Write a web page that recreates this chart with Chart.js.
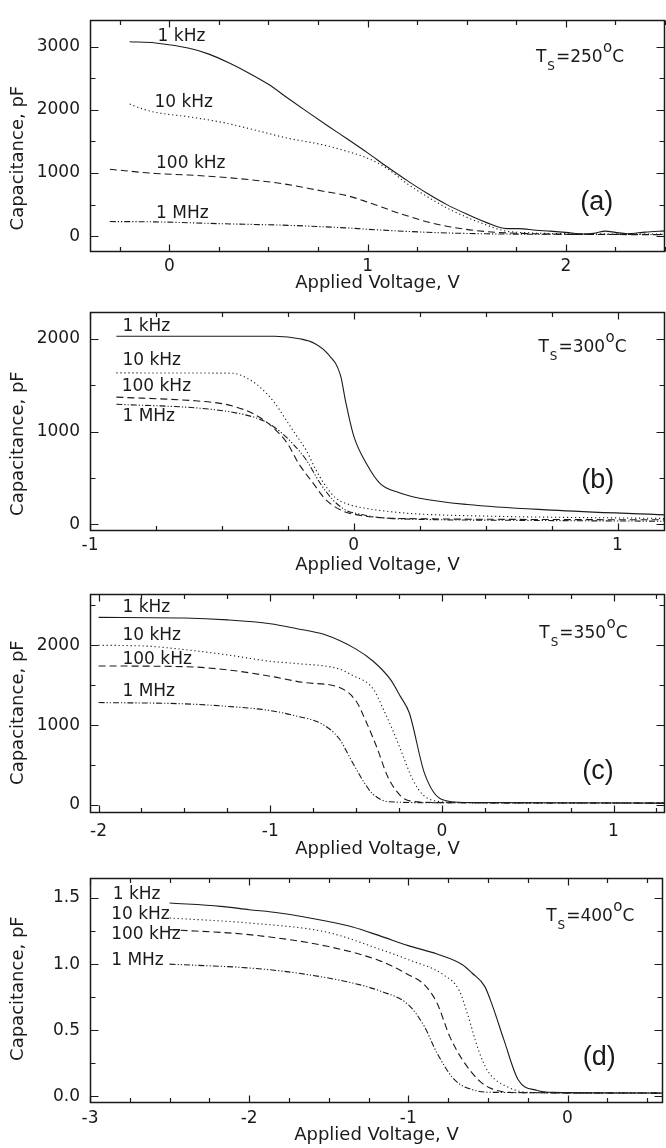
<!DOCTYPE html>
<html>
<head>
<meta charset="utf-8">
<title>Capacitance vs applied voltage</title>
<script src="https://cdn.jsdelivr.net/npm/chart.js@4.4.1/dist/chart.umd.min.js"></script>
<style>
  body { margin: 0; background: #fff; }
  #wrap { position: relative; width: 666px; height: 1148px; }
  canvas { position: absolute; left: 0; }
</style>
</head>
<body>
<div id="wrap">
  <canvas id="cvA" width="666" height="292" style="top:0px"></canvas>
  <canvas id="cvB" width="666" height="282" style="top:292px"></canvas>
  <canvas id="cvC" width="666" height="284" style="top:574px"></canvas>
  <canvas id="cvD" width="666" height="286" style="top:858px"></canvas>
</div>
<script>
// measuring frequencies, same order in every panel
var freqLabels = ['1 kHz', '10 kHz', '100 kHz', '1 MHz'];
var substrateTemps = [250, 300, 350, 400];

// (a) Ts = 250 C  -- [voltage, capacitance pF]
var a1kHz = [[-0.2,3078],[-0.07,3060],[0.1,2975],[0.2,2883],[0.3,2745],[0.4,2585],[0.5,2405],[0.6,2180],[0.7,1960],[0.8,1745],[0.9,1535],[1.0,1320],[1.1,1095],[1.2,880],[1.3,680],[1.4,500],[1.5,350],[1.6,215],[1.7,120],[1.76,120],[1.85,95],[1.92,80],[2.0,60],[2.09,36],[2.14,45],[2.2,80],[2.25,60],[2.31,40],[2.4,65],[2.5,85]];
var a10kHz = [[-0.2,2092],[-0.12,2000],[-0.05,1950],[0.1,1890],[0.27,1800],[0.44,1675],[0.6,1550],[0.77,1450],[0.9,1340],[1.0,1235],[1.1,1070],[1.2,830],[1.32,590],[1.42,415],[1.57,212],[1.69,86],[1.8,55],[2.0,40],[2.2,35],[2.5,35]];
var a100kHz = [[-0.3,1060],[-0.07,993],[0.1,968],[0.27,933],[0.44,883],[0.6,817],[0.77,716],[0.9,640],[1.0,540],[1.16,363],[1.32,212],[1.49,111],[1.66,60],[1.85,38],[2.1,28],[2.5,25]];
var a1MHz = [[-0.3,232],[-0.07,227],[0.27,197],[0.6,172],[0.9,130],[1.0,110],[1.3,62],[1.6,38],[2.0,30],[2.5,28]];

// (b) Ts = 300 C
var b1kHz = [[-0.9,2025],[-0.3,2025],[-0.2,1995],[-0.15,1950],[-0.1,1840],[-0.05,1600],[-0.03,1310],[0.0,950],[0.05,645],[0.1,440],[0.17,345],[0.25,283],[0.43,215],[0.75,155],[1.18,103]];
var b10kHz = [[-0.9,1630],[-0.46,1627],[-0.4,1566],[-0.35,1463],[-0.3,1309],[-0.26,1139],[-0.22,968],[-0.18,796],[-0.144,591],[-0.112,437],[-0.068,283],[-0.018,215],[0.045,174],[0.17,129],[0.25,112],[0.5,90],[1.18,65]];
var b100kHz = [[-0.9,1370],[-0.6,1330],[-0.5,1300],[-0.46,1275],[-0.38,1190],[-0.31,1053],[-0.25,865],[-0.21,660],[-0.157,455],[-0.106,267],[-0.043,147],[0.008,106],[0.108,72],[0.25,62],[0.6,55],[1.18,50]];
var b1MHz = [[-0.9,1293],[-0.59,1252],[-0.46,1207],[-0.38,1155],[-0.33,1098],[-0.28,1001],[-0.23,865],[-0.18,694],[-0.13,455],[-0.08,267],[-0.03,154],[0.008,120],[0.108,72],[0.25,55],[0.6,45],[1.18,35]];

// (c) Ts = 350 C
var c1kHz = [[-2.0,2350],[-1.5,2342],[-1.25,2318],[-1.0,2270],[-0.85,2210],[-0.68,2131],[-0.5,1952],[-0.4,1800],[-0.3,1573],[-0.24,1354],[-0.19,1155],[-0.1,390],[0.0,70],[0.14,32],[1.3,24]];
var c10kHz = [[-2.0,2000],[-1.74,1992],[-1.49,1944],[-1.25,1880],[-1.0,1800],[-0.85,1772],[-0.6,1705],[-0.53,1633],[-0.4,1454],[-0.34,1195],[-0.29,956],[-0.23,637],[-0.17,319],[-0.106,119],[-0.03,48],[0.1,32],[1.3,24]];
var c100kHz = [[-2.0,1741],[-1.5,1733],[-1.25,1693],[-1.0,1613],[-0.8,1533],[-0.6,1474],[-0.5,1302],[-0.44,1036],[-0.378,717],[-0.316,358],[-0.242,119],[-0.18,48],[0.0,30],[1.3,24]];
var c1MHz = [[-2.0,1283],[-1.5,1267],[-1.25,1235],[-1.0,1183],[-0.85,1115],[-0.7,1016],[-0.6,836],[-0.527,558],[-0.452,279],[-0.403,139],[-0.304,40],[0.0,28],[1.3,24]];

// (d) Ts = 400 C
var d1kHz = [[-2.5,1.462],[-2.18,1.437],[-2.0,1.412],[-1.81,1.387],[-1.51,1.324],[-1.35,1.281],[-1.17,1.21],[-1.0,1.14],[-0.82,1.077],[-0.66,0.996],[-0.6,0.933],[-0.52,0.832],[-0.47,0.681],[-0.4,0.429],[-0.31,0.126],[-0.19,0.045],[-0.09,0.03],[0.6,0.025]];
var d10kHz = [[-2.5,1.349],[-2.0,1.311],[-1.51,1.241],[-1.17,1.109],[-1.0,1.034],[-0.78,0.92],[-0.68,0.8],[-0.63,0.63],[-0.56,0.353],[-0.5,0.19],[-0.36,0.063],[-0.23,0.03],[0.6,0.025]];
var d100kHz = [[-2.5,1.261],[-2.0,1.223],[-1.51,1.135],[-1.17,1.021],[-1.0,0.92],[-0.9,0.845],[-0.82,0.706],[-0.74,0.454],[-0.66,0.277],[-0.55,0.113],[-0.47,0.055],[-0.36,0.03],[0.6,0.025]];
var d1MHz = [[-2.5,1.0],[-2.0,0.971],[-1.7,0.933],[-1.35,0.857],[-1.17,0.794],[-1.0,0.693],[-0.9,0.53],[-0.82,0.328],[-0.71,0.126],[-0.58,0.045],[-0.44,0.03],[0.6,0.025]];

// labelled tick values
var xTicksA = [0, 1, 2];        var yTicksA = [0, 1000, 2000, 3000];
var xTicksB = [-1, 0, 1];       var yTicksB = [0, 1000, 2000];
var xTicksC = [-2, -1, 0, 1];   var yTicksC = [0, 1000, 2000];
var xTicksD = [-3, -2, -1, 0];  var yTicksD = [0, 0.5, 1.0, 1.5];

var INK = '#1a1a1a';
var FONT = "'DejaVu Sans', sans-serif";
var dashes = [[], [1.2, 2.8], [7, 4], [6, 2, 1.2, 2, 1.2, 2]];

// values between min and max on a regular step (minor tick marks)
function stepValues(min, max, step) {
    var out = [];
    var v = Math.ceil(min / step - 1e-9) * step;
    for (; v <= max + 1e-9; v += step) out.push(Math.round(v * 1000) / 1000);
    return out;
}

function isMajor(list, v) {
    return list.some(function(m) { return Math.abs(m - v) < 1e-6; });
}

// frame with inward ticks on all four sides, in-plot labels, y title
var panelDecor = {
    id: 'panelDecor',
    afterDatasetsDraw: function(chart, args, o) {
        var ctx = chart.ctx, ca = chart.chartArea;
        var xs = chart.scales.x, ys = chart.scales.y;
        var L = Math.round(ca.left) + 0.5, R = Math.round(ca.right) - 0.5;
        var T = Math.round(ca.top) + 0.5, B = Math.round(ca.bottom) - 0.5;
        ctx.save();
        ctx.strokeStyle = INK;
        ctx.lineWidth = 1.5;
        ctx.strokeRect(L, T, R - L, B - T);

        ctx.lineWidth = 1.2;
        ctx.beginPath();
        stepValues(xs.min, xs.max, o.xMinor).forEach(function(v) {
            var px = Math.round(xs.getPixelForValue(v)) + 0.5;
            var len = isMajor(o.xMajor, v) ? 7 : 4.5;
            ctx.moveTo(px, B); ctx.lineTo(px, B - len);
            ctx.moveTo(px, T); ctx.lineTo(px, T + len);
        });
        stepValues(ys.min, ys.max, o.yMinor).forEach(function(v) {
            var py = Math.round(ys.getPixelForValue(v)) + 0.5;
            var len = isMajor(o.yMajor, v) ? 8 : 5;
            ctx.moveTo(L, py); ctx.lineTo(L + len, py);
            ctx.moveTo(R, py); ctx.lineTo(R - len, py);
        });
        ctx.stroke();

        ctx.fillStyle = INK;

        // y axis title
        ctx.save();
        ctx.translate(18, (ca.top + ca.bottom) / 2 + o.yTitleShift);
        ctx.rotate(-Math.PI / 2);
        ctx.font = '18px ' + FONT;
        ctx.textAlign = 'center';
        ctx.textBaseline = 'middle';
        ctx.fillText('Capacitance, pF', 0, 0);
        ctx.restore();

        // curve names
        ctx.font = '17px ' + FONT;
        ctx.textAlign = 'left';
        ctx.textBaseline = 'middle';
        o.curveLabels.forEach(function(p, i) {
            ctx.fillText(freqLabels[i], xs.getPixelForValue(p[0]), ys.getPixelForValue(p[1]));
        });

        // substrate temperature, T with subscript S and degree
        ctx.textBaseline = 'alphabetic';
        var cx = xs.getPixelForValue(o.tsAt[0]);
        var by = ys.getPixelForValue(o.tsAt[1]);
        ctx.font = '17px ' + FONT;
        ctx.fillText('T', cx, by); cx += ctx.measureText('T').width + 1;
        ctx.font = '12px ' + FONT;
        ctx.fillText('S', cx, by + 8); cx += ctx.measureText('S').width + 1;
        ctx.font = '17px ' + FONT;
        var t = '=' + o.temp;
        ctx.fillText(t, cx, by); cx += ctx.measureText(t).width + 0.5;
        ctx.font = '15px ' + FONT;
        ctx.fillText('o', cx, by - 10); cx += ctx.measureText('o').width;
        ctx.font = '17px ' + FONT;
        ctx.fillText('C', cx, by);

        // panel letter
        ctx.font = "27px 'Liberation Sans', Arial, sans-serif";
        ctx.textAlign = 'center';
        ctx.textBaseline = 'middle';
        ctx.fillText(o.letter, xs.getPixelForValue(o.letterAt[0]), ys.getPixelForValue(o.letterAt[1]));
        ctx.restore();
    }
};

function drawPanel(canvasId, p) {
    var ctx = document.getElementById(canvasId).getContext('2d');
    var datasets = p.series.map(function(s, i) {
        return {
            label: freqLabels[i],
            data: s.map(function(q) { return { x: q[0], y: q[1] }; }),
            borderColor: INK,
            borderWidth: 1.1,
            borderDash: dashes[i],
            pointRadius: 0,
            fill: false,
            cubicInterpolationMode: 'monotone'
        };
    });
    return new Chart(ctx, {
        type: 'line',
        data: { datasets: datasets },
        options: {
            responsive: false,
            animation: false,
            layout: { padding: { top: p.padTop, right: p.padRight, left: 0, bottom: 0 } },
            plugins: {
                legend: { display: false },
                tooltip: { enabled: false },
                panelDecor: {
                    xMajor: p.xTicks, yMajor: p.yTicks,
                    xMinor: 0.25, yMinor: p.yMinor,
                    yTitleShift: p.yTitleShift,
                    curveLabels: p.curveLabels,
                    temp: p.temp, tsAt: p.tsAt,
                    letter: p.letter, letterAt: p.letterAt
                }
            },
            scales: {
                x: {
                    type: 'linear',
                    min: p.xMin, max: p.xMax,
                    grid: { display: false, drawTicks: false },
                    border: { display: false },
                    afterBuildTicks: function(s) { s.ticks = p.xTicks.map(function(v) { return { value: v }; }); },
                    afterFit: function(s) { s.height = p.xAxisH; },
                    ticks: {
                        color: INK, padding: p.xTickPad, maxRotation: 0,
                        font: { family: FONT, size: 17 },
                        callback: function(v) { return String(v); }
                    },
                    title: {
                        display: true, text: 'Applied Voltage, V', color: INK, padding: 0,
                        font: { family: FONT, size: 18, lineHeight: 1 }
                    }
                },
                y: {
                    type: 'linear',
                    min: p.yMin, max: p.yMax,
                    grid: { display: false, drawTicks: false },
                    border: { display: false },
                    afterBuildTicks: function(s) { s.ticks = p.yTicks.map(function(v) { return { value: v }; }); },
                    afterFit: function(s) { s.width = 90; },
                    ticks: {
                        color: INK, padding: 10,
                        font: { family: FONT, size: 17 },
                        callback: function(v) { return p.yDecimals ? v.toFixed(p.yDecimals) : String(v); }
                    }
                }
            }
        },
        plugins: [panelDecor]
    });
}

window.onload = function() {
    drawPanel('cvA', {
        series: [a1kHz, a10kHz, a100kHz, a1MHz],
        xMin: -0.4, xMax: 2.5, yMin: -250, yMax: 3420,
        xTicks: xTicksA, yTicks: yTicksA, yMinor: 500, yDecimals: 0,
        padTop: 9, padRight: 1, xAxisH: 40, xTickPad: 4, yTitleShift: 22,
        curveLabels: [[-0.059, 3165], [-0.075, 2115], [-0.067, 1145], [-0.067, 363]],
        temp: substrateTemps[0], tsAt: [1.849, 2762],
        letter: '(a)', letterAt: [2.156, 540]
    });
    drawPanel('cvB', {
        series: [b1kHz, b10kHz, b100kHz, b1MHz],
        xMin: -1, xMax: 1.18, yMin: -70, yMax: 2283,
        xTicks: xTicksB, yTicks: yTicksB, yMinor: 500, yDecimals: 0,
        padTop: 10, padRight: 1, xAxisH: 43, xTickPad: 4, yTitleShift: 22,
        curveLabels: [[-0.877, 2124], [-0.877, 1760], [-0.88, 1487], [-0.877, 1162]],
        temp: substrateTemps[1], tsAt: [0.70, 1857],
        letter: '(b)', letterAt: [0.925, 472]
    });
    drawPanel('cvC', {
        series: [c1kHz, c10kHz, c100kHz, c1MHz],
        xMin: -2.05, xMax: 1.3, yMin: -100, yMax: 2640,
        xTicks: xTicksC, yTicks: yTicksC, yMinor: 500, yDecimals: 0,
        padTop: 10, padRight: 1, xAxisH: 45, xTickPad: 8, yTitleShift: 9,
        curveLabels: [[-1.861, 2469], [-1.861, 2119], [-1.861, 1824], [-1.861, 1426]],
        temp: substrateTemps[2], tsAt: [0.568, 2091],
        letter: '(c)', letterAt: [0.91, 418]
    });
    drawPanel('cvD', {
        series: [d1kHz, d10kHz, d100kHz, d1MHz],
        xMin: -3, xMax: 0.6, yMin: -0.05, yMax: 1.65,
        xTicks: xTicksD, yTicks: yTicksD, yMinor: 0.25, yDecimals: 1,
        padTop: 20, padRight: 3, xAxisH: 41, xTickPad: 5, yTitleShift: -2,
        curveLabels: [[-2.857, 1.526], [-2.867, 1.374], [-2.867, 1.223], [-2.867, 1.025]],
        temp: substrateTemps[3], tsAt: [-0.134, 1.324],
        letter: '(d)', letterAt: [0.2, 0.29]
    });
};
</script>
</body>
</html>
